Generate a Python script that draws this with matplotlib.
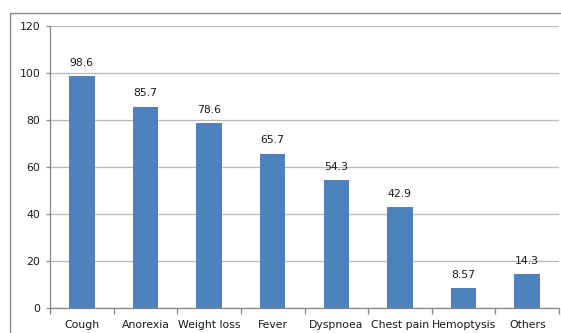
import matplotlib
matplotlib.use("Agg")
import matplotlib.pyplot as plt
from matplotlib.patches import Rectangle
import numpy as np

categories = ["Cough", "Anorexia", "Weight loss", "Fever", "Dyspnoea",
              "Chest pain", "Hemoptysis", "Others"]
values = [98.6, 85.7, 78.6, 65.7, 54.3, 42.9, 8.57, 14.3]
value_labels = ["98.6", "85.7", "78.6", "65.7", "54.3", "42.9", "8.57", "14.3"]
y_ticks = [0, 20, 40, 60, 80, 100, 120]

plt.rcParams["font.family"] = ["DejaVu Sans"]

W, H = 561, 333
fig = plt.figure(figsize=(W / 100, H / 100), dpi=100)

# chart frame
fig.patches.append(Rectangle((10 / W, -0.05), 1.2, (H - 13) / H + 0.05,
                             transform=fig.transFigure, fill=False,
                             edgecolor="#868686", linewidth=1.0))

ax = fig.add_axes([50 / W, (H - 308) / H, (559 - 50) / W, (308 - 26) / H])

x = np.arange(len(categories))
ax.bar(x, values, width=0.4, color="#4f81bd", zorder=3)

for xi, v, lab in zip(x, values, value_labels):
    ax.annotate(lab, (xi, v), xytext=(0, 6), textcoords="offset points",
                ha="center", va="bottom", fontsize=7.8, color="#1a1a1a",
                zorder=4)

ax.set_xlim(-0.5, len(categories) - 0.5)
ax.set_ylim(0, 120)
ax.set_yticks(y_ticks)
ax.set_yticklabels([str(t) for t in y_ticks])
ax.yaxis.grid(True, color="#b8b8b8", linewidth=0.9, zorder=0)
ax.set_axisbelow(True)

ax.set_xticks(x)
ax.set_xticklabels(categories)
ax.set_xticks(np.arange(len(categories) + 1) - 0.5, minor=True)
ax.tick_params(axis="x", which="major", length=0, pad=9, labelsize=7.8,
               labelcolor="#1a1a1a")
ax.tick_params(axis="x", which="minor", length=4, color="#868686", width=0.9)
ax.tick_params(axis="y", length=3, color="#868686", width=0.9, pad=4,
               labelsize=7.8, labelcolor="#1a1a1a")

for s in ["top", "right"]:
    ax.spines[s].set_visible(False)
for s in ["left", "bottom"]:
    ax.spines[s].set_color("#868686")
    ax.spines[s].set_linewidth(0.9)

fig.savefig("out.png", dpi=100)
